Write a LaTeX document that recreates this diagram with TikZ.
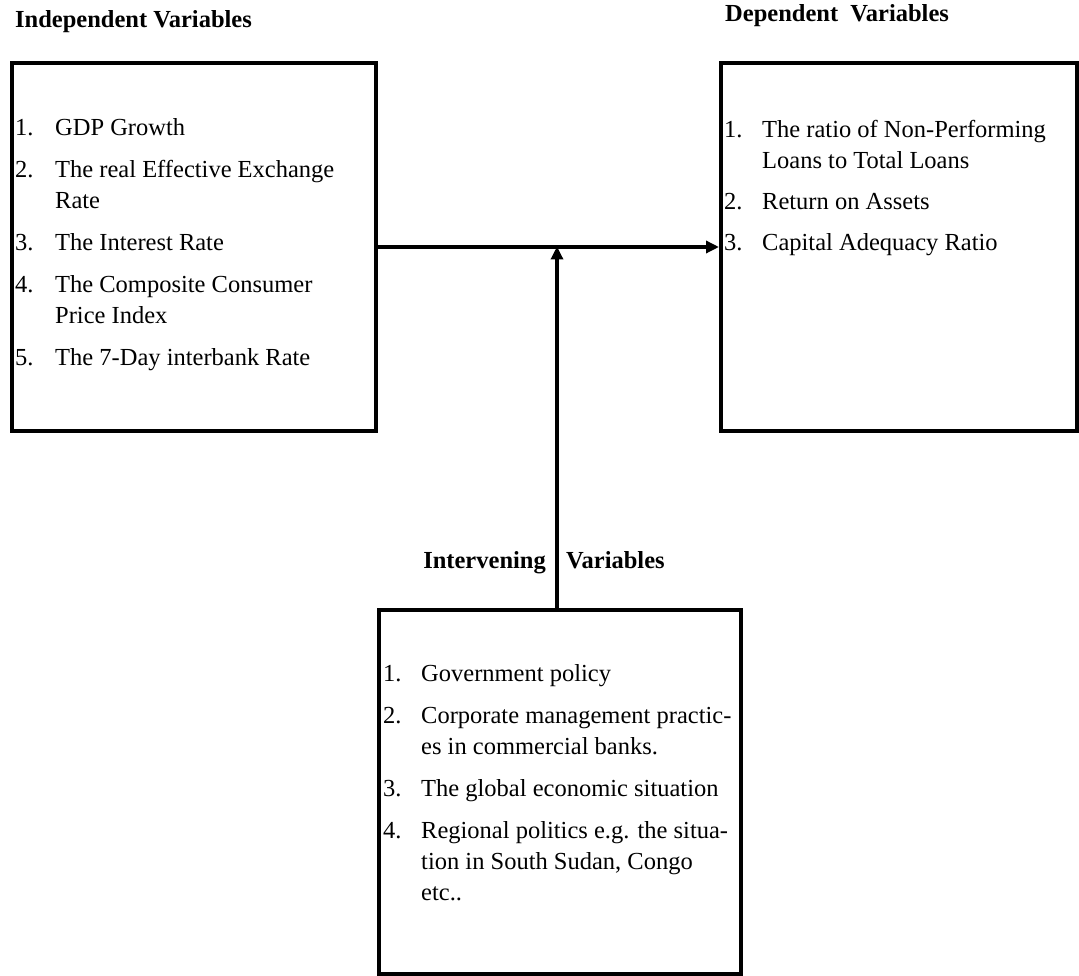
\documentclass[tikz,border=0pt]{standalone}
\usepackage{fontspec}
\setmainfont{Liberation Serif}
\usetikzlibrary{arrows.meta, positioning}

\begin{document}
\begin{tikzpicture}[x=1pt, y=-1pt]

\tikzset{panel/.style = {shape=rectangle, draw, line width=4pt, anchor=north west, inner sep=0pt}}
\tikzset{heading/.style = {font=\fontsize{24.5}{30}\selectfont\bfseries, inner sep=0pt, anchor=base west}}
\tikzset{items/.style = {font=\fontsize{24.5}{31}\selectfont, inner sep=0pt, anchor=base west, align=left}}
\tikzset{edge/.style = {-{Triangle[length=13pt,width=12pt]}, line width=3.5pt}}

\useasboundingbox (0,0) rectangle (1079,976);

% headings
\node[heading] (indeptitle) at (15,28) {Independent Variables};
\node[heading] (deptitle) at (725,22) {Dependent\ \ Variables};
\node[heading, anchor=base east] (intertitleA) at (546,568) {Intervening};
\node[heading] (intertitleB) at (566,568) {Variables};

% boxes
\node[panel, minimum width=364pt, minimum height=368pt] (indep) at (10,61) {};
\node[panel, minimum width=356pt, minimum height=368pt] (dep) at (719,61) {};
\node[panel, minimum width=362pt, minimum height=364pt] (interv) at (377,608) {};

% lists
\node[items] (indeplist) at (15,136) {\begin{tabular}[t]{@{}p{40pt}@{}l@{}}
1. & GDP Growth\\[11pt]
2. & The real Effective Exchange\\
   & Rate\\[11pt]
3. & The Interest Rate\\[11pt]
4. & The Composite Consumer\\
   & Price Index\\[11pt]
5. & The 7-Day interbank Rate
\end{tabular}};
\node[items] (deplist) at (724,138) {\begin{tabular}[t]{@{}p{38pt}@{}l@{}}
1. & The ratio of Non-Performing\\
   & Loans to Total Loans\\[10pt]
2. & Return on Assets\\[10pt]
3. & Capital Adequacy Ratio
\end{tabular}};
\node[items] (intervlist) at (383,681) {\begin{tabular}[t]{@{}p{38pt}@{}l@{}}
1. & Government policy\\[11pt]
2. & Corporate management practic-\\
   & es in commercial banks.\\[11pt]
3. & The global economic situation\\[11pt]
4. & Regional politics e.g. the situa-\\
   & tion in South Sudan, Congo\\
   & etc..
\end{tabular}};

% arrows
\coordinate (meet) at (557,245);
\draw[edge] (indep.east) -- (dep.west);
\draw[edge, shorten >=1.5pt] (interv.north -| meet) -- (meet);

\end{tikzpicture}
\end{document}
